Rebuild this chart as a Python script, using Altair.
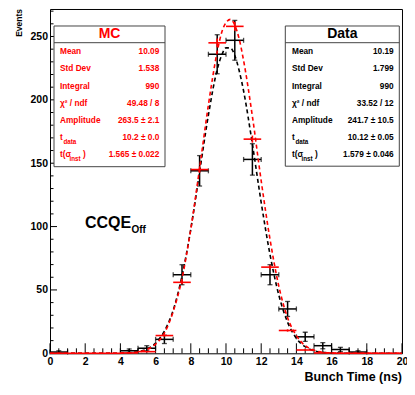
import altair as alt
import pandas as pd

# ---------------- data ----------------
bin_centers = [0.5, 1.5, 2.5, 3.5, 4.5, 5.5, 6.5, 7.5, 8.5, 9.5,
               10.5, 11.5, 12.5, 13.5, 14.5, 15.5, 16.5, 17.5, 18.5, 19.5]
mc_counts = [0, 0, 0, 0, 0.3, 1.3, 14, 56, 145, 245, 258, 169, 68, 18, 2.6, 0.3, 0, 0, 0, 0]
mc_errors = [0, 0, 0, 0, 0.2, 0.4, 0.8, 1.6, 2.6, 3.4, 3.5, 2.8, 1.7, 0.9, 0.3, 0.1, 0, 0, 0, 0]

data_centers = [0.5, 4.5, 5.5, 6.5, 7.5, 8.5, 9.5, 10.5, 11.5, 12.5, 13.5, 14.5, 15.5, 16.5, 17.5]
data_counts = [1, 2, 4, 11, 62, 144, 236, 247, 153, 62, 35, 13, 6, 3, 1]
data_errors = [1, 1.4, 2, 3.3, 7.9, 12, 15.4, 15.7, 12.4, 7.9, 5.9, 3.6, 2.4, 1.7, 1]

curve_t = [0, 3, 3.5, 4, 4.5, 5, 5.5, 6, 6.5, 7, 7.5, 8, 8.5, 9, 9.5, 9.75, 10, 10.25,
           10.5, 10.75, 11, 11.5, 12, 12.5, 13, 13.5, 14, 14.5, 15, 15.5, 16, 16.5, 17, 20]
mc_fit = [0, 0, 0, 0.1, 0.4, 1.1, 2.9, 7.2, 16, 33, 59, 98, 146, 196, 238, 253, 261, 263.5,
          259, 248, 231, 187, 136, 90, 53, 28, 14, 6, 2.4, 0.8, 0.3, 0.1, 0, 0]
data_fit = [0, 0, 0, 0.1, 0.5, 1.3, 3.3, 8, 17.5, 34, 61, 98, 143, 188, 224, 235, 241, 241,
            235, 223, 207, 165, 119, 78, 46, 24.5, 11.8, 5.2, 2, 0.7, 0.2, 0.1, 0, 0]

x_major = [0, 2, 4, 6, 8, 10, 12, 14, 16, 18, 20]
x_minor = [i * 0.5 for i in range(41) if i % 4]
y_major = [0, 50, 100, 150, 200, 250]
y_minor = [v for v in range(10, 280, 10) if v % 50]

stat_labels = ["Mean", "Std Dev", "Integral", "χ² / ndf", "Amplitude", "t", "t(σ"]
stat_subs = ["", "", "", "", "", "data", "inst"]
stat_tails = ["", "", "", "", "", "", ")"]
mc_stat_values = ["10.09", "1.538", "990", "49.48 / 8", "263.5 ± 2.1", "10.2 ± 0.0", "1.565 ± 0.022"]
data_stat_values = ["10.19", "1.799", "990", "33.52 / 12", "241.7 ± 10.5", "10.12 ± 0.05", "1.579 ± 0.046"]

# ---------------- layout ----------------
W, H = 352, 344.3
FONT = "Liberation Sans"
xs = alt.Scale(domain=[0, 20], nice=False, zero=False)
ys = alt.Scale(domain=[0, 271.7], nice=False, zero=False)
xax = alt.Axis(values=x_major, title=None, ticks=False, tickSize=0, domain=False, grid=False,
               labelFont=FONT, labelFontWeight="bold", labelFontSize=10.5, labelPadding=3.5,
               labelColor="black", labelFlush=False)
yax = alt.Axis(values=y_major, title=None, ticks=False, tickSize=0, domain=False, grid=False,
               labelFont=FONT, labelFontWeight="bold", labelFontSize=10.5, labelPadding=2.5,
               labelColor="black", labelFlush=False)


def X(f):
    return alt.X(f, type="quantitative", scale=xs, axis=xax)


def Y(f):
    return alt.Y(f, type="quantitative", scale=ys, axis=yax)


def PX(f):
    return alt.X(f, type="quantitative", scale=None, axis=None)


def PY(f):
    return alt.Y(f, type="quantitative", scale=None, axis=None)


# ---------------- tables ----------------
mc_df = pd.DataFrame({"t": bin_centers, "n": mc_counts, "e": mc_errors})
mc_df["lo"] = mc_df["t"] - 0.5
mc_df["hi"] = mc_df["t"] + 0.5
mc_df["nlo"] = mc_df["n"] - mc_df["e"]
mc_df["nhi"] = mc_df["n"] + mc_df["e"]

d_df = pd.DataFrame({"t": data_centers, "n": data_counts, "e": data_errors})
d_df["lo"] = d_df["t"] - 0.5
d_df["hi"] = d_df["t"] + 0.5
d_df["nlo"] = (d_df["n"] - d_df["e"]).clip(lower=0)
d_df["nhi"] = d_df["n"] + d_df["e"]

fit_df = pd.DataFrame({"t": curve_t, "mc": mc_fit, "data": data_fit})

# ---------------- histogram / fit layers ----------------
black_fit = alt.Chart(fit_df).mark_line(color="black", strokeWidth=1.6, strokeDash=[4, 3],
                                        interpolate="monotone").encode(x=X("t"), y=Y("data"))
red_fit = alt.Chart(fit_df).mark_line(color="red", strokeWidth=1.6, strokeDash=[4, 3],
                                      interpolate="monotone").encode(x=X("t"), y=Y("mc"))

d_h = alt.Chart(d_df).mark_rule(color="black", strokeWidth=1.5).encode(x=X("lo"), x2="hi", y=Y("n"))
d_v = alt.Chart(d_df).mark_rule(color="black", strokeWidth=1.5).encode(x=X("t"), y=Y("nlo"), y2="nhi")
d_cap_lo = alt.Chart(d_df).mark_tick(color="black", orient="horizontal", size=5, thickness=1.3).encode(x=X("t"), y=Y("nlo"))
d_cap_hi = alt.Chart(d_df).mark_tick(color="black", orient="horizontal", size=5, thickness=1.3).encode(x=X("t"), y=Y("nhi"))
d_cap_l = alt.Chart(d_df).mark_tick(color="black", orient="vertical", size=5, thickness=1.3).encode(x=X("lo"), y=Y("n"))
d_cap_r = alt.Chart(d_df).mark_tick(color="black", orient="vertical", size=5, thickness=1.3).encode(x=X("hi"), y=Y("n"))

mc_h = alt.Chart(mc_df).mark_rule(color="red", strokeWidth=1.6).encode(x=X("lo"), x2="hi", y=Y("n"))
mc_v = alt.Chart(mc_df[mc_df["e"] > 0]).mark_rule(color="red", strokeWidth=1.6).encode(x=X("t"), y=Y("nlo"), y2="nhi")

# ---------------- inward ticks ----------------
xt_major = alt.Chart(pd.DataFrame({"v": x_major})).mark_rule(color="black", strokeWidth=1).encode(
    x=X("v"), y=alt.value(H), y2=alt.value(H - 10))
xt_minor = alt.Chart(pd.DataFrame({"v": x_minor})).mark_rule(color="black", strokeWidth=1).encode(
    x=X("v"), y=alt.value(H), y2=alt.value(H - 5))
yt_major = alt.Chart(pd.DataFrame({"v": y_major})).mark_rule(color="black", strokeWidth=1).encode(
    y=Y("v"), x=alt.value(0), x2=alt.value(7))
yt_minor = alt.Chart(pd.DataFrame({"v": y_minor})).mark_rule(color="black", strokeWidth=1).encode(
    y=Y("v"), x=alt.value(0), x2=alt.value(3.5))

# ---------------- stat boxes ----------------
boxes_df = pd.DataFrame({"x0": [4, 235.3], "x1": [115, 349.3], "y0": [17, 17],
                         "y1": [157.7, 157.2], "yh": [33.7, 33.7]})
box_rect = alt.Chart(boxes_df).mark_rect(fill="white", stroke="#444444", strokeWidth=1).encode(
    x=PX("x0"), x2="x1", y=PY("y0"), y2="y1")
box_line = alt.Chart(boxes_df).mark_rule(color="#444444", strokeWidth=1).encode(
    x=PX("x0"), x2="x1", y=PY("yh"))

sub_off = {"t": 3.4, "t(σ": 9.5}
tail_off = {"t(σ": 23.0}
left_rows, right_rows, sub_rows = [], [], []
for values, color, lx, rx in [(mc_stat_values, "red", 10, 109.3),
                              (data_stat_values, "black", 242, 343.7)]:
    for i, (lab, sub, tail, val) in enumerate(zip(stat_labels, stat_subs, stat_tails, values)):
        py = 43.3 + 17.2 * i
        left_rows.append({"text": lab, "px": lx, "py": py, "color": color})
        right_rows.append({"text": val, "px": rx, "py": py, "color": color})
        if sub:
            sub_rows.append({"text": sub, "px": lx + sub_off[lab], "py": py + 3.5, "color": color})
        if tail:
            left_rows.append({"text": tail, "px": lx + tail_off[lab], "py": py, "color": color})

title_df = pd.DataFrame({"text": ["MC", "Data"], "px": [59.5, 292.3], "py": [25.3, 25.3],
                         "color": ["red", "black"]})


def text_layer(df, align, size):
    return alt.Chart(pd.DataFrame(df)).mark_text(
        align=align, baseline="middle", font=FONT, fontWeight="bold", fontSize=size
    ).encode(text="text:N", x=PX("px"), y=PY("py"), color=alt.Color("color:N", scale=None))


st_left = text_layer(left_rows, "left", 8.3)
st_right = text_layer(right_rows, "right", 8.3)
st_sub = text_layer(sub_rows, "left", 6.3)
st_title = text_layer(title_df, "center", 14)

# ---------------- other text ----------------
ccqe = alt.Chart(pd.DataFrame({"text": ["CCQE"]})).mark_text(
    align="left", baseline="alphabetic", font=FONT, fontWeight="bold", fontSize=16, color="black"
).encode(text="text:N", x=alt.value(35), y=alt.value(219.3))
ccqe_sub = alt.Chart(pd.DataFrame({"text": ["Off"]})).mark_text(
    align="left", baseline="alphabetic", font=FONT, fontWeight="bold", fontSize=10, color="black"
).encode(text="text:N", x=alt.value(81.5), y=alt.value(224.3))

x_title = alt.Chart(pd.DataFrame({"text": ["Bunch Time (ns)"]})).mark_text(
    align="right", baseline="alphabetic", font=FONT, fontWeight="bold", fontSize=12.5, color="black"
).encode(text="text:N", x=alt.value(W), y=alt.value(372))
y_title = alt.Chart(pd.DataFrame({"text": ["Events"]})).mark_text(
    align="right", baseline="alphabetic", font=FONT, fontWeight="bold", fontSize=8.5, color="black",
    angle=270
).encode(text="text:N", x=alt.value(-28.3), y=alt.value(0))

chart = alt.layer(
    xt_minor, xt_major, yt_minor, yt_major,
    black_fit, d_h, d_v, d_cap_lo, d_cap_hi, d_cap_l, d_cap_r,
    red_fit, mc_h, mc_v,
    box_rect, box_line, st_title, st_left, st_right, st_sub,
    ccqe, ccqe_sub, x_title, y_title,
).properties(
    width=W, height=H,
    autosize=alt.AutoSizeParams(type="none"),
    padding={"left": 42, "top": 1, "right": 5, "bottom": 36},
).configure_view(stroke="black", strokeWidth=1)

chart.save("out.html", embed_options={"renderer": "svg", "actions": False})
